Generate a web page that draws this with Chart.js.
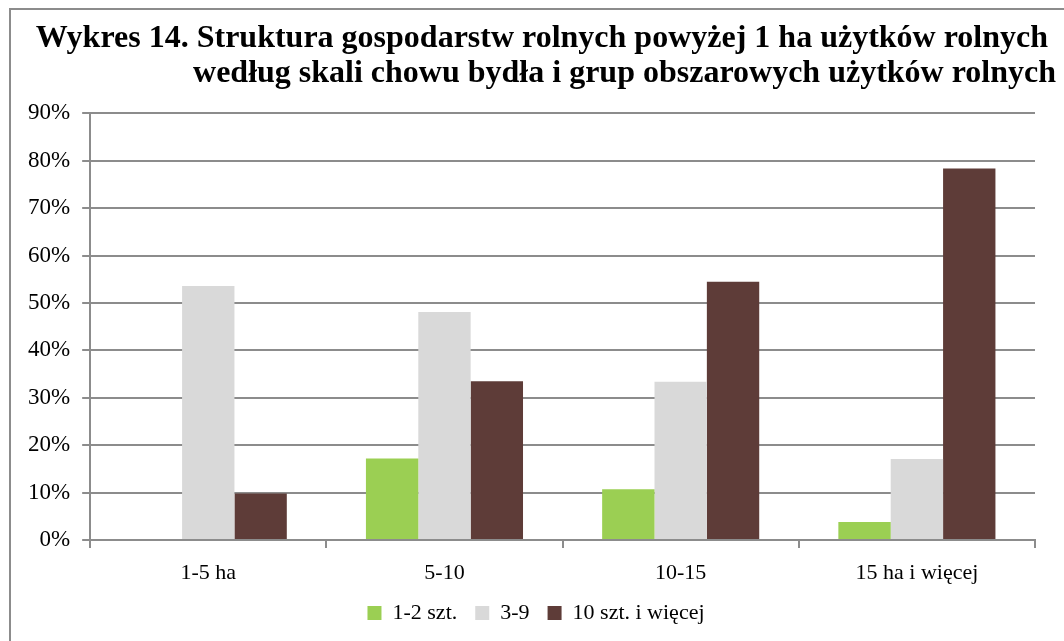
<!DOCTYPE html>
<html>
<head>
<meta charset="utf-8">
<script src="https://cdn.jsdelivr.net/npm/chart.js@4/dist/chart.umd.min.js"></script>
<style>
  body { margin: 0; background: #fff; }
  #ramka { position: absolute; left: 9px; top: 8px; width: 1100px; height: 700px;
           border-left: 2px solid #8c8c8c; border-top: 2px solid #8c8c8c; }
  #wrap { position: absolute; left: 0; top: 0; width: 1064px; height: 641px; }
</style>
</head>
<body>
<div id="ramka"></div>
<div id="wrap"><canvas id="wykres"></canvas></div>
<script>
// Dane (w %)
const grupy = ['1-5 ha', '5-10', '10-15', '15 ha i więcej'];
const szt1_2 = [0, 17.2, 10.7, 3.8];
const szt3_9 = [53.6, 48.1, 33.4, 17.1];
const szt10 = [9.8, 33.5, 54.5, 78.4];
const tytul = ['Wykres 14. Struktura gospodarstw rolnych powyżej 1 ha użytków rolnych ',
               'według skali chowu bydła i grup obszarowych użytków rolnych'];

const czcionka = 'Liberation Serif, Times New Roman, serif';
const szary = '#8c8c8c';

const ctx = document.getElementById('wykres').getContext('2d');
new Chart(ctx, {
  type: 'bar',
  data: {
    labels: grupy,
    datasets: [
      { label: '1-2 szt.', data: szt1_2, backgroundColor: '#9BCF53' },
      { label: '3-9', data: szt3_9, backgroundColor: '#D9D9D9' },
      { label: '10 szt. i więcej', data: szt10, backgroundColor: '#5E3C38' }
    ]
  },
  options: {
    responsive: true,
    maintainAspectRatio: false,
    animation: false,
    categoryPercentage: 0.665,
    barPercentage: 1,
    layout: { padding: { left: 16, right: 8, top: 21, bottom: 7 } },
    plugins: {
      title: {
        display: true,
        text: tytul,
        align: 'end',
        color: '#000',
        font: { family: czcionka, size: 32, weight: 'bold', lineHeight: 1.1 },
        padding: { top: 0, bottom: 22 }
      },
      legend: {
        position: 'bottom',
        labels: {
          color: '#000',
          font: { family: czcionka, size: 22 },
          boxWidth: 14,
          boxHeight: 14,
          padding: 18
        }
      },
      tooltip: { enabled: false }
    },
    scales: {
      x: {
        grid: { drawOnChartArea: false, drawTicks: true, tickLength: 8, color: szary, lineWidth: 2 },
        border: { color: szary, width: 2 },
        ticks: { color: '#000', font: { family: czcionka, size: 22 }, padding: 12 },
        afterFit: s => { s.height = 44; }
      },
      y: {
        min: 0,
        max: 90,
        grid: { color: szary, lineWidth: 2, tickLength: 8 },
        border: { color: szary, width: 2 },
        ticks: {
          stepSize: 10,
          color: '#000',
          font: { family: czcionka, size: 23 },
          padding: 12,
          callback: v => v + '%'
        }
      },
      // pusta oś po prawej - tylko odsuwa obszar wykresu od krawędzi
      prawa: {
        type: 'linear',
        position: 'right',
        grid: { display: false },
        border: { display: false },
        ticks: { display: false },
        afterFit: s => { s.width = 21; }
      }
    }
  }
});
</script>
</body>
</html>
